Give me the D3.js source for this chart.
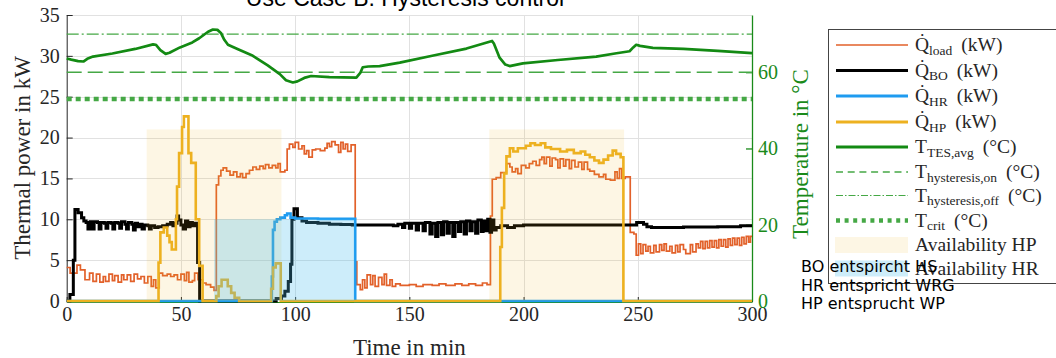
<!DOCTYPE html>
<html>
<head>
<meta charset="utf-8">
<script src="https://cdn.jsdelivr.net/npm/d3@7"></script>
<style>
	body { margin: 0; background: #fff; }
	svg { display: block; }
</style>
</head>
<body>
<div class="svg-container"></div>
<script>
const w = 1056;
const h = 358;

// plot box
const plotLeft = 66.7;
const plotRight = 752;
const plotTop = 15;
const plotBottom = 301;

// ---- data (time in min, value) ----
const qLoad = [
	[0, 4.1], [1.5, 3.4], [4.5, 4.4], [6, 3.8], [8, 2.6], [10, 3.4], [11.5, 2.4], [13, 3.3],
	[14.5, 2.3], [16, 3.0], [17, 2.4], [18.5, 3.3], [20, 2.5], [21, 3.1], [22.5, 2.3], [24, 3.2],
	[25, 2.6], [26.5, 3.2], [28, 2.4], [29.5, 3.3], [31, 2.7], [32.5, 3.0], [34, 2.2], [35.5, 3.0],
	[37, 1.8], [38, 2.6], [39, 1.6], [40.5, 3.4], [42, 3.1], [44, 3.3], [45.5, 3.0], [47, 3.2],
	[48.5, 2.6], [50, 3.3], [51.5, 2.5], [52.5, 3.5], [53.5, 2.3], [55, 2.5], [56, 3.4], [57.5, 2.6],
	[59.5, 2.2], [61, 2.0], [63, 1.7], [64.5, 1.3], [65.5, 14.2], [66.5, 15.3], [67.5, 16.0],
	[68.5, 16.3], [70, 15.9], [71.5, 15.4], [73, 15.8], [74.5, 15.2], [76, 15.6], [77, 15.1],
	[78.5, 15.6], [80, 16.0], [81.5, 16.4], [83, 16.1], [84.5, 16.5], [86, 16.2], [87, 16.7],
	[88.5, 16.3], [90, 16.6], [91.5, 16.3], [92.5, 16.8], [93.5, 15.8], [95.5, 16.0], [96.5, 18.6],
	[97.5, 19.2], [99, 18.8], [100, 19.4], [101.5, 18.6], [103, 19.0], [104, 18.0], [105, 18.4],
	[106, 17.6], [107.5, 18.5], [109, 18.6], [111, 18.4], [113, 18.7], [114, 19.3], [115, 18.9],
	[116, 19.5], [117.5, 19.1], [119, 18.2], [120, 19.4], [121, 18.6], [122, 19.2], [123, 18.3],
	[124.5, 19.1], [126.3, 4.8], [127, 2.0], [128.5, 1.4], [129.5, 2.6], [130.5, 1.6], [131.5, 3.2],
	[133, 2.0], [134, 3.1], [135, 1.8], [136.5, 2.9], [138, 2.0], [139, 3.3], [140, 1.9],
	[141.5, 2.6], [142.5, 1.8], [144, 2.1], [146, 1.9], [150, 2.0], [153, 1.8], [156, 2.0],
	[160, 1.9], [163, 2.1], [166, 1.9], [170, 2.1], [173, 1.9], [176, 2.1], [179, 1.9], [182, 2.2],
	[184, 2.0], [185.5, 10.4], [186.3, 14.9], [188, 15.1], [190, 15.7], [192.5, 16.8], [194, 16.4],
	[195, 15.8], [196.5, 16.2], [197.5, 15.6], [199, 16.6], [201, 16.3], [202.5, 16.8], [204, 17.1],
	[205.5, 16.6], [207, 17.3], [208, 17.6], [209, 16.8], [210, 17.6], [211.5, 16.5], [212.5, 17.5],
	[214, 17.3], [215, 16.3], [216, 17.4], [217.5, 16.5], [218.5, 17.3], [220, 16.2], [221, 17.2],
	[222.5, 16.4], [224, 17.0], [225.5, 16.1], [226.5, 17.0], [228, 16.1], [229, 15.9], [231, 15.5],
	[233, 15.2], [235, 15.5], [236, 14.9], [238, 14.8], [240, 15.8], [241, 15.0], [242, 16.2],
	[243, 15.0], [244.5, 15.2], [246.7, 8.4], [248.3, 8.2], [249.3, 5.6], [250.3, 7.0], [251.3, 5.8],
	[252.3, 6.9], [253.5, 6.1], [254.5, 6.7], [255.5, 5.9], [257, 6.8], [258, 6.0], [259.5, 6.9],
	[260.5, 6.2], [261.5, 7.0], [262.5, 6.1], [264, 6.7], [265, 5.9], [266.5, 6.8], [267.5, 6.0],
	[268.5, 6.9], [270, 6.3], [271, 5.8], [273, 6.9], [274, 6.0], [275.5, 7.0], [276.5, 6.5],
	[277.5, 7.3], [278.5, 6.4], [279.5, 7.3], [280.5, 6.5], [281.5, 7.4], [282.5, 6.6], [283.5, 7.4],
	[284.5, 6.5], [285.5, 7.5], [286.5, 6.7], [287.5, 7.5], [288.5, 6.6], [289.5, 7.6], [290.5, 6.8],
	[291.5, 7.7], [292.5, 6.9], [293.5, 7.7], [294.5, 6.8], [295.5, 7.8], [296.5, 7.0], [297.5, 7.9],
	[298.5, 7.2], [299.3, 7.9], [300, 7.9]
];

const qBO = [
	[0, 0], [1.4, 0.8], [2.9, 5.0], [3.6, 11.2], [5, 10.8], [6.5, 10.2], [7.5, 9.8], [8.5, 9.6],
	[9.3, 8.8], [10.3, 9.7], [11, 8.8], [12, 9.7], [13.5, 9.6], [14.2, 8.8], [15, 9.6], [16.5, 9.5],
	[17.2, 8.9], [18, 9.6], [19.5, 9.5], [20.2, 8.8], [21, 9.6], [22.5, 9.5], [23.2, 8.9], [24, 9.7],
	[25.5, 9.4], [26.2, 8.8], [27, 9.6], [28.5, 9.4], [29.2, 8.7], [30, 9.5], [31, 9.1], [32, 9.4],
	[33, 8.8], [34, 9.3], [35.5, 9.2], [36.2, 8.8], [37, 9.2], [38.5, 9.0], [40, 9.1], [42, 9.2],
	[44, 9.4], [45.5, 9.6], [46.5, 9.2], [47.5, 9.5], [48.3, 10.4], [49, 9.9], [50, 9.3], [51, 8.8],
	[52, 9.8], [53, 9.1], [54, 9.6], [55, 9.2], [56, 9.5], [57.3, 4.7], [58.2, 0], [91.7, 0.3],
	[94, 0.6], [95.5, 1.2], [97, 2.4], [98, 4.5], [98.6, 10.0], [99.5, 11.3], [101, 10.2],
	[103, 9.8], [105, 9.6], [110, 9.5], [115, 9.4], [120, 9.35], [125, 9.3], [140, 9.3], [143, 9.2],
	[145, 9.4], [147, 9.0], [148, 9.5], [150, 8.9], [151, 9.5], [153, 8.7], [154, 9.5], [156, 8.6],
	[157, 9.6], [159, 8.2], [160, 9.5], [161.5, 7.9], [162.5, 9.6], [164, 8.1], [165, 9.7],
	[166.5, 8.3], [167.5, 9.6], [169, 7.9], [170, 9.6], [171.5, 8.5], [172.5, 9.7], [174, 8.2],
	[175, 9.8], [176.5, 8.6], [177.5, 9.7], [179, 8.3], [180, 9.9], [181.5, 8.5], [182.3, 9.8],
	[183.5, 8.6], [184.3, 10.0], [185.3, 8.4], [186, 9.9], [187, 8.7], [188, 9.0], [190, 9.2],
	[193, 9.0], [196, 9.2], [200, 9.3], [220, 9.3], [248, 9.3], [249.5, 9.6], [252.5, 9.4],
	[254, 9.1], [256, 9.0], [270, 9.05], [285, 9.1], [295, 9.2], [300, 9.2]
];

const qHR = [
	[0, 0], [89.8, 3.0], [90.3, 8.7], [91, 9.7], [92, 10.0], [93.5, 10.2], [95.5, 10.5],
	[96.5, 10.7], [98, 10.2], [100, 10.1], [110, 10.05], [126.3, 0], [300, 0]
];

const qHP = [
	[0, 0], [40.2, 4.7], [41, 8.4], [42.5, 9.0], [44, 8.0], [45, 7.2], [46, 6.3], [47.8, 10.0],
	[48.3, 14.0], [49.2, 18.1], [50.5, 21.3], [51.3, 22.6], [53.3, 18.1], [54.5, 16.9], [56.5, 10.0],
	[58, 4.3], [59.5, 0], [65.5, 0.6], [66.5, 1.8], [67.8, 2.6], [70.5, 1.8], [72, 1.0], [73.5, 0.4],
	[75.5, 0], [89.5, 1.5], [90.3, 4.1], [91.5, 4.6], [93.7, 0], [189.8, 6.6], [190.5, 11.4],
	[191.5, 15.6], [192.5, 17.7], [194, 18.7], [195.5, 18.3], [197.5, 18.7], [201, 19.0], [203, 19.3],
	[205, 19.1], [207.5, 19.3], [209.5, 18.8], [212, 18.6], [216, 18.3], [219, 18.5], [222, 18.1],
	[225, 18.3], [227, 17.9], [229, 17.6], [231, 17.2], [233, 16.9], [235, 17.3], [237, 17.8],
	[239, 18.4], [240.5, 18.0], [242.5, 17.6], [243.7, 0], [300, 0]
];

const tTES = [
	[0, 63.6], [2, 63.3], [5, 62.9], [7.3, 62.8], [9, 63.5], [11.5, 64.1], [20, 64.9], [30, 66.1],
	[37.8, 67.3], [39, 67.2], [41, 65.8], [43.3, 64.8], [45, 65.1], [49.6, 66.5], [55, 67.8],
	[58, 68.9], [61.9, 70.6], [64, 71.2], [66, 71.1], [67.5, 70.3], [69, 68.5], [70.6, 67.2],
	[75, 66.0], [81.5, 64.3], [88, 61.8], [93.3, 59.5], [96, 57.9], [99, 57.3], [101, 57.6],
	[104, 58.5], [107, 59.0], [115, 58.7], [126.8, 58.6], [128.5, 59.8], [129.6, 61.3], [132, 61.5],
	[137, 61.6], [145.8, 62.5], [160, 64.3], [175, 66.2], [186.2, 68.2], [187, 67.5], [189.5, 63.8],
	[192, 62.0], [193.9, 61.6], [199.7, 62.3], [215, 63.2], [231.8, 64.1], [240, 64.9], [246.4, 65.5],
	[248, 66.5], [249.3, 67.2], [251, 66.9], [256.6, 66.4], [270, 66.1], [285, 65.6], [300, 65.0]
];

const tHystOn = 60;
const tHystOff = 70;
const tCrit = 53;

const hpAvail = [[35, 94], [185, 244]];
const hpAvailLevel = 21;
const hrAvail = [[64.5, 126]];
const hrAvailLevel = 10;

const powerTicks = [0, 5, 10, 15, 20, 25, 30, 35];
const tempTicks = [0, 20, 40, 60];
const timeTicks = [0, 50, 100, 150, 200, 250, 300];

const legendItems = [
	{main: 'Q\u0307', sub: 'load', unit: '(kW)', type: 'line', color: '#e2612a', width: 1.6},
	{main: 'Q\u0307', sub: 'BO', unit: '(kW)', type: 'line', color: '#000', width: 3},
	{main: 'Q\u0307', sub: 'HR', unit: '(kW)', type: 'line', color: '#1e9bf0', width: 3},
	{main: 'Q\u0307', sub: 'HP', unit: '(kW)', type: 'line', color: '#edb120', width: 3},
	{main: 'T', sub: 'TES,avg', unit: '(\u00b0C)', type: 'line', color: '#138a13', width: 3},
	{main: 'T', sub: 'hysteresis,on', unit: '(\u00b0C)', type: 'line', color: '#45a845', width: 1.5, dash: '7,4.7'},
	{main: 'T', sub: 'hysteresis,off', unit: '(\u00b0C)', type: 'line', color: '#45a845', width: 1, dash: '7,2,1.5,2'},
	{main: 'T', sub: 'crit', unit: '(\u00b0C)', type: 'line', color: '#45a845', width: 4.5, dash: '4,4.6'},
	{main: 'Availability HP', type: 'patch', fill: '#edb120', opacity: 0.12},
	{main: 'Availability HR', type: 'patch', fill: '#4dbeee', opacity: 0.28}
];
// row centres in the legend box
const legendRowY = [45, 70.5, 96, 122, 147, 172, 195.5, 220.5, 245, 268.5];

const notes = ['BO entspircht HS', 'HR entspricht WRG', 'HP entsprucht WP'];

// ---- drawing ----
const svg = d3
	.select('.svg-container')
	.append('svg')
	.attr('width', w)
	.attr('height', h)
	.style('background-color', '#fff');

const xScale = d3.scaleLinear().domain([0, 300]).range([plotLeft, plotRight]);
const yPower = d3.scaleLinear().domain([0, 35]).range([plotBottom, plotTop]);
const yTemp = d3.scaleLinear().domain([0, 75]).range([plotBottom, plotTop]);

const serif = '"Liberation Serif", "Times New Roman", serif';
const green = '#1a8a1a';

// grid
svg
	.append('g')
	.selectAll('line')
	.data(powerTicks.slice(1))
	.enter()
	.append('line')
	.attr('x1', plotLeft)
	.attr('x2', plotRight)
	.attr('y1', d => Math.round(yPower(d)) + 0.5)
	.attr('y2', d => Math.round(yPower(d)) + 0.5)
	.attr('stroke', '#e1e1e1');

svg
	.append('g')
	.selectAll('line')
	.data(timeTicks.slice(1, -1))
	.enter()
	.append('line')
	.attr('x1', d => Math.round(xScale(d)) + 0.5)
	.attr('x2', d => Math.round(xScale(d)) + 0.5)
	.attr('y1', plotTop)
	.attr('y2', plotBottom)
	.attr('stroke', '#e1e1e1');

// axes
const xAxis = svg
	.append('g')
	.attr('transform', `translate(0, ${plotBottom + 1})`)
	.call(d3.axisBottom(xScale).tickValues(timeTicks).tickSize(-5).tickSizeOuter(0).tickPadding(5));
xAxis.select('.domain').attr('stroke', green);
xAxis.selectAll('.tick line').attr('stroke', '#262626');

const yAxisL = svg
	.append('g')
	.attr('transform', `translate(${plotLeft}, 0)`)
	.call(d3.axisLeft(yPower).tickValues(powerTicks).tickSize(-6).tickSizeOuter(0).tickPadding(7));
yAxisL.selectAll('.domain, .tick line').attr('stroke', '#262626');

const yAxisR = svg
	.append('g')
	.attr('transform', `translate(${plotRight}, 0)`)
	.call(d3.axisRight(yTemp).tickValues(tempTicks).tickSize(-6).tickSizeOuter(0).tickPadding(6));
yAxisR.selectAll('.domain, .tick line').attr('stroke', green).attr('stroke-width', 1.3);
yAxisR.selectAll('text').attr('fill', green);

[xAxis, yAxisL].forEach(a => a.selectAll('text').attr('fill', '#262626'));
svg
	.selectAll('.tick text')
	.style('font-family', serif)
	.style('font-size', '20px');

// power lines
const stepLine = d3
	.line()
	.x(d => xScale(d[0]))
	.y(d => yPower(d[1]))
	.curve(d3.curveStepAfter);

const powerSeries = [
	{data: qLoad, color: '#e2612a', width: 1.7},
	{data: qBO, color: '#000', width: 3},
	{data: qHR, color: '#1e9bf0', width: 2.6},
	{data: qHP, color: '#edb120', width: 2.6}
];

svg
	.append('g')
	.selectAll('path')
	.data(powerSeries)
	.enter()
	.append('path')
	.attr('d', d => stepLine(d.data))
	.attr('fill', 'none')
	.attr('stroke', d => d.color)
	.attr('stroke-width', d => d.width)
	.attr('stroke-linejoin', 'miter');

// availability patches, on top of the lines
svg
	.append('g')
	.selectAll('rect')
	.data(hpAvail)
	.enter()
	.append('rect')
	.attr('x', d => xScale(d[0]))
	.attr('width', d => xScale(d[1]) - xScale(d[0]))
	.attr('y', yPower(hpAvailLevel))
	.attr('height', yPower(0) - yPower(hpAvailLevel))
	.attr('fill', '#edb120')
	.attr('fill-opacity', 0.12);

svg
	.append('g')
	.selectAll('rect')
	.data(hrAvail)
	.enter()
	.append('rect')
	.attr('x', d => xScale(d[0]))
	.attr('width', d => xScale(d[1]) - xScale(d[0]))
	.attr('y', yPower(hrAvailLevel))
	.attr('height', yPower(0) - yPower(hrAvailLevel))
	.attr('fill', '#4dbeee')
	.attr('fill-opacity', 0.28);

// temperature lines
const thresholds = [
	{value: tHystOn, dash: '15,6', width: 1.5},
	{value: tHystOff, dash: '12,3,2,3', width: 1.2},
	{value: tCrit, dash: '5,4', width: 4.5}
];

svg
	.append('g')
	.selectAll('line')
	.data(thresholds)
	.enter()
	.append('line')
	.attr('x1', plotLeft)
	.attr('x2', plotRight)
	.attr('y1', d => yTemp(d.value))
	.attr('y2', d => yTemp(d.value))
	.attr('stroke', '#45a845')
	.attr('stroke-width', d => d.width)
	.attr('stroke-dasharray', d => d.dash);

svg
	.append('path')
	.attr(
		'd',
		d3
			.line()
			.x(d => xScale(d[0]))
			.y(d => yTemp(d[1]))(tTES)
	)
	.attr('fill', 'none')
	.attr('stroke', '#138a13')
	.attr('stroke-width', 2.7)
	.attr('stroke-linejoin', 'round');

// titles and labels
svg
	.append('text')
	.attr('x', 405)
	.attr('y', 6)
	.style('text-anchor', 'middle')
	.style('font-family', '"Liberation Sans", Arial, sans-serif')
	.style('font-size', '23px')
	.text('Use Case B: Hysteresis control');

svg
	.append('text')
	.attr('x', (plotLeft + plotRight) / 2)
	.attr('y', 355)
	.style('text-anchor', 'middle')
	.style('font-family', serif)
	.style('font-size', '23px')
	.attr('fill', '#262626')
	.text('Time in min');

svg
	.append('text')
	.attr('transform', `translate(30, ${(plotTop + plotBottom) / 2}) rotate(-90)`)
	.style('text-anchor', 'middle')
	.style('font-family', serif)
	.style('font-size', '23px')
	.attr('fill', '#262626')
	.text('Thermal power in kW');

svg
	.append('text')
	.attr('transform', `translate(808, 154) rotate(-90)`)
	.style('text-anchor', 'middle')
	.style('font-family', serif)
	.style('font-size', '23px')
	.attr('fill', green)
	.text('Temperature in \u00b0C');

// legend
const legend = svg.append('g').attr('id', 'legend');

legend
	.append('rect')
	.attr('x', 828.5)
	.attr('y', 29.5)
	.attr('width', 240)
	.attr('height', 254)
	.attr('fill', '#fff')
	.attr('stroke', '#444')
	.attr('stroke-width', 1);

const rows = legend
	.selectAll('.legend-row')
	.data(legendItems)
	.enter()
	.append('g')
	.attr('class', 'legend-row')
	.attr('transform', (d, i) => `translate(0, ${legendRowY[i]})`);

rows
	.filter(d => d.type === 'line')
	.append('line')
	.attr('x1', 836)
	.attr('x2', 908)
	.attr('stroke', d => d.color)
	.attr('stroke-width', d => d.width)
	.attr('stroke-dasharray', d => d.dash || null);

rows
	.filter(d => d.type === 'patch')
	.append('rect')
	.attr('x', 835)
	.attr('y', -8)
	.attr('width', 73)
	.attr('height', 16)
	.attr('fill', d => d.fill)
	.attr('fill-opacity', d => d.opacity);

const labels = rows
	.append('text')
	.attr('x', 915)
	.attr('y', 6)
	.style('font-family', serif)
	.style('font-size', '19.5px')
	.attr('fill', '#262626');

labels.append('tspan').text(d => d.main);
labels
	.filter(d => d.sub)
	.append('tspan')
	.attr('dy', 3.5)
	.style('font-size', '13.5px')
	.text(d => d.sub);
labels
	.filter(d => d.unit)
	.append('tspan')
	.attr('dx', 9)
	.attr('dy', -3.5)
	.text(d => d.unit);

// notes
svg
	.append('g')
	.selectAll('text')
	.data(notes)
	.enter()
	.append('text')
	.attr('x', 801)
	.attr('y', (d, i) => 272 + i * 18.6)
	.style('font-family', '"DejaVu Sans", sans-serif')
	.style('font-size', '16px')
	.attr('fill', '#000')
	.text(d => d);
</script>
</body>
</html>
